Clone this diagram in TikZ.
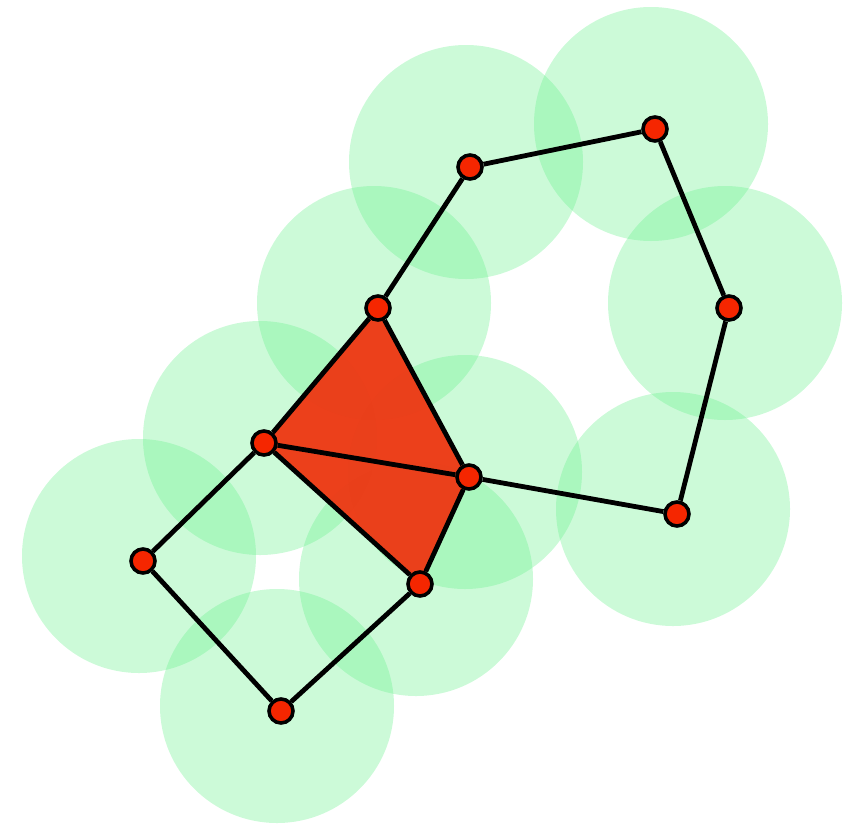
\documentclass[tikz,border=0pt]{standalone}
\definecolor{ballgreen}{RGB}{100,240,137}
\definecolor{dotred}{RGB}{245,38,0}
\definecolor{trired}{RGB}{238,54,18}
\tikzset{
  ball/.style={fill=ballgreen, fill opacity=0.33, draw=none},
  vtx/.style={circle, fill=dotred, draw=black, line width=3.6pt, minimum size=24pt, inner sep=0pt},
  edge/.style={draw=black, line width=4.8pt},
  simplex/.style={fill=trired, fill opacity=0.95, draw=none}
}
\begin{document}
\begin{tikzpicture}[x=1pt,y=-1pt]
\useasboundingbox (0,0) rectangle (856,825);
% points
\coordinate (pA) at (470,167);
\coordinate (pB) at (655,129);
\coordinate (pC) at (729,308);
\coordinate (pD) at (677,514);
\coordinate (pE) at (469,477);
\coordinate (pF) at (378,308);
\coordinate (pG) at (264,443);
\coordinate (pH) at (143,561);
\coordinate (pI) at (281,711);
\coordinate (pJ) at (420,584);
% balls
\foreach \p in {pA,pB,pC,pD,pE,pF,pG,pH,pI,pJ}
  \fill[ball] ([shift={(-4,-5)}]\p) circle (117);
% filled triangles
\fill[simplex] (pF) -- (pG) -- (pE) -- cycle;
\fill[simplex] (pG) -- (pE) -- (pJ) -- cycle;
% vertices
\node[vtx] (A) at (pA) {};
\node[vtx] (B) at (pB) {};
\node[vtx] (C) at (pC) {};
\node[vtx] (D) at (pD) {};
\node[vtx] (E) at (pE) {};
\node[vtx] (F) at (pF) {};
\node[vtx] (G) at (pG) {};
\node[vtx] (H) at (pH) {};
\node[vtx] (I) at (pI) {};
\node[vtx] (J) at (pJ) {};
% edges
\draw[edge] (A) -- (B);
\draw[edge] (B) -- (C);
\draw[edge] (C) -- (D);
\draw[edge] (D) -- (E);
\draw[edge] (A) -- (F);
\draw[edge] (F) -- (G);
\draw[edge] (F) -- (E);
\draw[edge] (G) -- (E);
\draw[edge] (G) -- (H);
\draw[edge] (H) -- (I);
\draw[edge] (I) -- (J);
\draw[edge] (J) -- (E);
\draw[edge] (G) -- (J);
\end{tikzpicture}
\end{document}
